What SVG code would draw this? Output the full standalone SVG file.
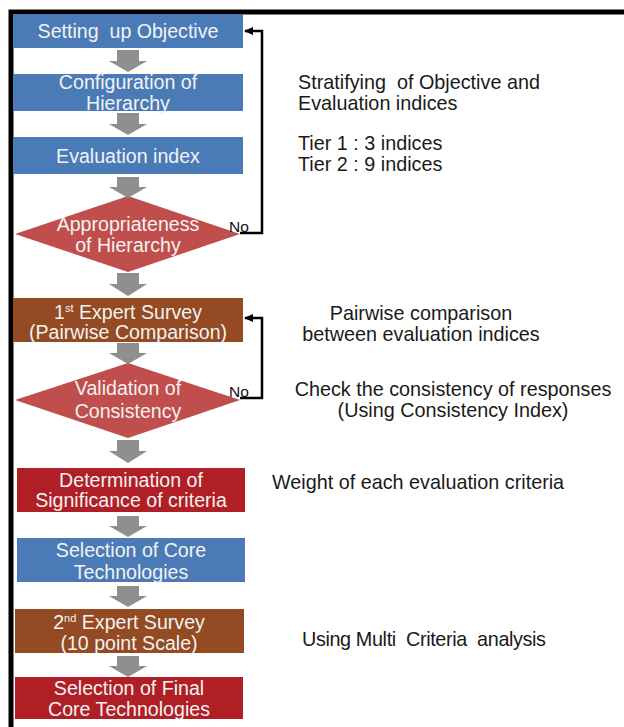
<svg xmlns="http://www.w3.org/2000/svg" width="624" height="727" viewBox="0 0 624 727">
<defs>
<style>
.bt{font-family:"Liberation Sans",Arial,sans-serif;font-size:19.6px;fill:#f2f2f2;text-anchor:middle}
.rt{font-family:"Liberation Sans",Arial,sans-serif;font-size:19.8px;fill:#1a1a1a;white-space:pre}
.no{font-family:"Liberation Sans",Arial,sans-serif;font-size:15.5px;fill:#111}
.blue{fill:#4a7bb7}
.brown{fill:#944a22}
.red{fill:#b01f25}
.dia{fill:#c04e4c}
.ga{fill:#8f8f8f}
.fb{fill:none;stroke:#000;stroke-width:2.5}
</style>
<marker id="ah" markerWidth="10" markerHeight="10" refX="8" refY="5" orient="auto" markerUnits="userSpaceOnUse">
<path d="M0,1 L9,5 L0,9 z" fill="#000"/>
</marker>
</defs>
<rect width="624" height="727" fill="#fff"/>
<path d="M624,12 H11 V727" fill="none" stroke="#000" stroke-width="5" stroke-linejoin="miter"/>

<g id="n1"><rect class="blue" x="13" y="14" width="230" height="34"/><text class="bt" x="128" y="38" xml:space="preserve">Setting  up Objective</text></g>
<g id="n2"><rect class="blue" x="13" y="74" width="230" height="37"/><text class="bt" x="128" y="89">Configuration of</text><text class="bt" x="128" y="110">Hierarchy</text></g>
<g id="n3"><rect class="blue" x="13" y="137" width="230" height="37"/><text class="bt" x="128" y="163">Evaluation index</text></g>
<g id="n4"><polygon class="dia" points="128,196 240,234 128,272 15,234"/><text class="bt" x="128" y="231">Appropriateness</text><text class="bt" x="128" y="252">of Hierarchy</text></g>
<g id="n5"><rect class="brown" x="13" y="298" width="230" height="44"/><text class="bt" x="128" y="319">1<tspan font-size="11" dy="-7">st</tspan><tspan dy="7"> Expert Survey</tspan></text><text class="bt" x="128" y="339">(Pairwise Comparison)</text></g>
<g id="n6"><polygon class="dia" points="128,363 240,400 128,438 15,400"/><text class="bt" x="128" y="395">Validation of</text><text class="bt" x="128" y="418">Consistency</text></g>
<g id="n7"><rect class="red" x="17" y="468" width="228" height="44"/><text class="bt" x="131" y="487">Determination of</text><text class="bt" x="131" y="507">Significance of criteria</text></g>
<g id="n8"><rect class="blue" x="17" y="538" width="228" height="44"/><text class="bt" x="131" y="557">Selection of Core</text><text class="bt" x="131" y="579">Technologies</text></g>
<g id="n9"><rect class="brown" x="15" y="609" width="229" height="44"/><text class="bt" x="129" y="629">2<tspan font-size="11" dy="-7">nd</tspan><tspan dy="7"> Expert Survey</tspan></text><text class="bt" x="129" y="650">(10 point Scale)</text></g>
<g id="n10"><rect class="red" x="15" y="677" width="228" height="42"/><text class="bt" x="129" y="695">Selection of Final</text><text class="bt" x="129" y="716">Core Technologies</text></g>

<g id="connectors">
<polygon class="ga" points="117,50 139,50 139,61 147,61 128,72 109,61 117,61"/>
<polygon class="ga" points="117,113 139,113 139,124 147,124 128,135 109,124 117,124"/>
<polygon class="ga" points="117,177 139,177 139,187 147,187 128,198 109,187 117,187"/>
<polygon class="ga" points="117,273 139,273 139,284 147,284 128,296 109,284 117,284"/>
<polygon class="ga" points="117,343 139,343 139,353 147,353 128,364 109,353 117,353"/>
<polygon class="ga" points="117,440 139,440 139,451 147,451 128,463 109,451 117,451"/>
<polygon class="ga" points="117,516 139,516 139,526 147,526 128,537 109,526 117,526"/>
<polygon class="ga" points="117,586 139,586 139,596 147,596 128,607 109,596 117,596"/>
<polygon class="ga" points="117,656 139,656 139,666 147,666 128,677 109,666 117,666"/>
<path class="fb" d="M240,233 H262 V31 H245" marker-end="url(#ah)"/>
<path class="fb" d="M240,398 H262 V318 H245" marker-end="url(#ah)"/>
<text class="no" x="229" y="232">No</text>
<text class="no" x="229" y="397">No</text>
</g>

<g id="notes">
<text class="rt" x="298" y="89" xml:space="preserve">Stratifying  of Objective and</text>
<text class="rt" x="298" y="110">Evaluation indices</text>
<text class="rt" x="298" y="150">Tier 1 : 3 indices</text>
<text class="rt" x="298" y="171">Tier 2 : 9 indices</text>
<text class="rt" x="421" y="320" text-anchor="middle">Pairwise comparison</text>
<text class="rt" x="421" y="341" text-anchor="middle">between evaluation indices</text>
<text class="rt" x="453" y="396" text-anchor="middle">Check the consistency of responses</text>
<text class="rt" x="453" y="417" text-anchor="middle">(Using Consistency Index)</text>
<text class="rt" x="272" y="489">Weight of each evaluation criteria</text>
<text class="rt" x="302" y="646" xml:space="preserve" textLength="244" lengthAdjust="spacing">Using Multi  Criteria  analysis</text>
</g>
</svg>
